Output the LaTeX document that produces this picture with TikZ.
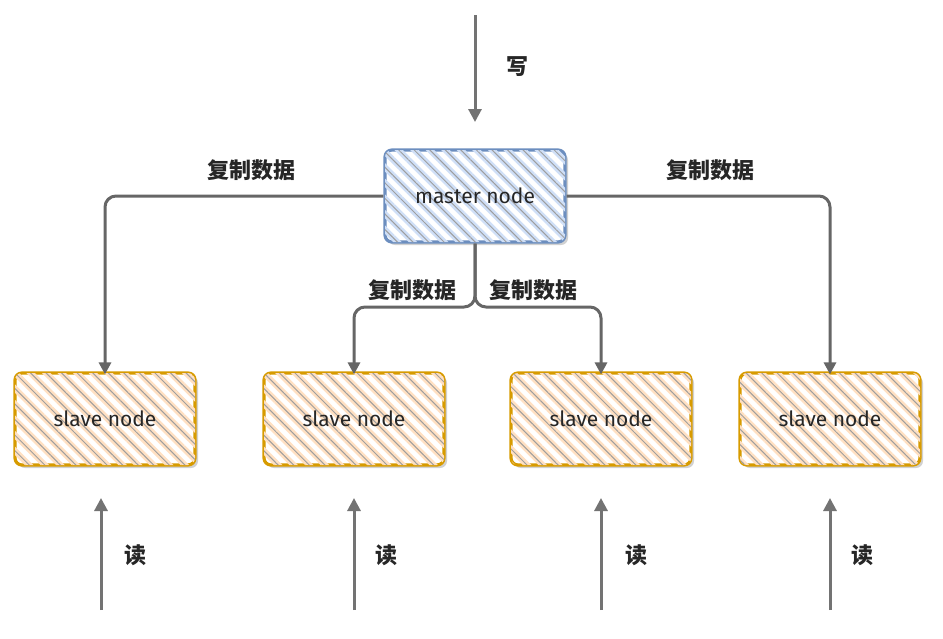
\documentclass[tikz,border=0pt]{standalone}
\usepackage{fontspec}
\setmainfont{Fira Sans}
\newfontfamily\cjk{Noto Sans CJK SC}
\usetikzlibrary{arrows.meta,patterns.meta,positioning}
\definecolor{mfill}{HTML}{CFDFF7}
\definecolor{mdraw}{HTML}{6C8EBF}
\definecolor{sfill}{HTML}{FFE0C2}
\definecolor{sdraw}{HTML}{D79B00}
\definecolor{conn}{HTML}{666666}
\tikzset{
  box/.style={rounded corners=7pt, minimum width=180pt, minimum height=92pt, inner sep=0pt,
    line width=3.2pt, font=\fontsize{21}{24}\selectfont, text=black!85},
  shadowed/.style={preaction={fill=black!30, opacity=0.6, transform canvas={shift={(3pt,-3pt)}}}},
  mbox/.style={box, shadowed, draw=mdraw, fill=white,
    postaction={pattern={Lines[angle=-45,distance=11pt,line width=6pt]}, pattern color=mfill},
    postaction={pattern={Lines[angle=-45,distance=11pt,line width=1pt]}, pattern color=black!38}},
  sbox/.style={box, shadowed, draw=sdraw, fill=white,
    postaction={pattern={Lines[angle=-45,distance=11pt,line width=6pt]}, pattern color=sfill},
    postaction={pattern={Lines[angle=-45,distance=11pt,line width=1pt]}, pattern color=black!38}},
  link/.style={draw=conn, line width=3pt, rounded corners=11pt, -{Triangle[length=12pt,width=12pt]}},
  io/.style={draw=black!55, line width=3pt, -{Triangle[length=13pt,width=13pt]}},
  lbl/.style={font=\cjk\bfseries\fontsize{22}{24}\selectfont, text=black!85},
}
\begin{document}
\begin{tikzpicture}[x=1pt,y=-1pt]
\useasboundingbox (0,0) rectangle (943,638);
\node[mbox] (m) at (475,196) {master node};
\node[sbox] (s1) at (105,419) {slave node};
\node[sbox] (s2) at (354,419) {slave node};
\node[sbox] (s3) at (601,419) {slave node};
\node[sbox] (s4) at (830,419) {slave node};

% write arrow
\coordinate (wtop) at (475,15);
\coordinate (wend) at (475,122);
\draw[io] (wtop) -- (wend);
\node[lbl] (wl) at (517,67) {写};

% replication
\draw[link] (m.west) -| ([yshift=-3pt]s1.north);
\draw[link] (m.east) -| ([yshift=-3pt]s4.north);
\coordinate (split) at (475,307);
\draw[link] (m.south) -- (split) -| ([yshift=-3pt]s2.north);
\draw[link] (m.south) -- (split) -| ([yshift=-3pt]s3.north);
\node[lbl] (l1) at (251,170) {复制数据};
\node[lbl] (l4) at (710,170) {复制数据};
\node[lbl] (l2) at (412,290) {复制数据};
\node[lbl] (l3) at (533,290) {复制数据};

% read arrows
\foreach \i/\x/\lx in {1/101/135,2/354/386,3/601/636,4/830/862}{
  \coordinate (rb\i) at (\x,610);
  \coordinate (rt\i) at (\x,498);
  \draw[io] (rb\i) -- (rt\i);
  \node[lbl] (rl\i) at (\lx,555) {读};
}
\end{tikzpicture}
\end{document}
